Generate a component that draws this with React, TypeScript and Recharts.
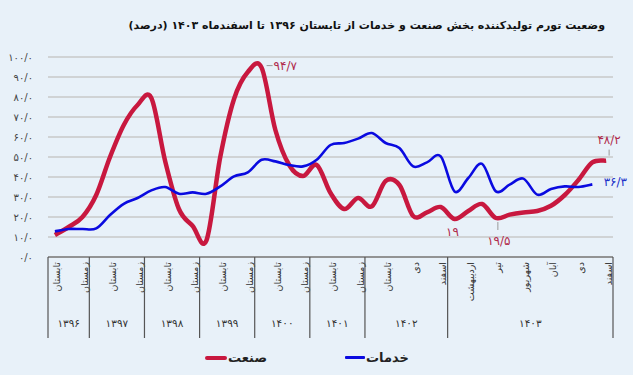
import React from 'react'
import { ComposedChart, Line, XAxis, YAxis, CartesianGrid } from 'recharts'

const years = ['۱۳۹۶', '۱۳۹۷', '۱۳۹۸', '۱۳۹۹', '۱۴۰۰', '۱۴۰۱', '۱۴۰۲', '۱۴۰۳']
const seasons = ['بهار', 'تابستان', 'پاییز', 'زمستان']
const periods: string[][] = [
  ['تابستان', 'پاییز', 'زمستان'],
  seasons, seasons, seasons, seasons, seasons,
  ['بهار', 'تابستان', 'پاییز', 'دی', 'بهمن', 'اسفند'],
  ['فروردین', 'اردیبهشت', 'خرداد', 'تیر', 'مرداد', 'شهریور', 'مهر', 'آبان', 'آذر', 'دی', 'بهمن', 'اسفند'],
]

// صنعت
const industry = [
  11, 15, 20,
  31, 50, 66, 76,
  79.5, 48, 24, 15.5,
  8.3, 50, 79, 92.5,
  94.7, 63.5, 46, 40.5,
  46, 32, 24, 29.5,
  25.3, 38, 36, 20.5, 22.3, 25,
  19, 23, 26.5, 19.5, 21.2, 22.3, 23, 25.6, 31, 38.6, 47.3, 48.2,
]
// خدمات
const services = [
  12.8, 14, 14,
  14.3, 21, 26.6, 29.5,
  33.3, 35, 31.6, 32.3,
  31.6, 35.3, 40.3, 42.3,
  48.6, 47.8, 46, 45.3,
  48.6, 56, 57, 59.2,
  62, 57, 54.5, 45.3, 47.3, 50.3,
  32.8, 39.5, 46.6, 32.8, 36.2, 39.2, 31.2, 34, 35.3, 35, 36.3, null,
]
const yTicks = [0, 10, 20, 30, 40, 50, 60, 70, 80, 90, 100]

// نقاطی که مقدارشان روی نمودار نوشته شده
const industryNotes = [15, 29, 32, 40]
const servicesNotes = [39]

const RED = '#c8183f'
const BLUE = '#0a0ae0'
const FONT = '"DejaVu Sans", sans-serif'

const faDigits = (s: string) => s.replace(/\d/g, d => '۰۱۲۳۴۵۶۷۸۹'[+d])
const fa1 = (v: number) => faDigits(v.toFixed(1).replace('.', '/'))
const faShort = (v: number) => faDigits(String(v).replace('.', '/'))

const rows: any[] = []
const groupStart: number[] = []
periods.forEach((list, y) => {
  groupStart.push(rows.length)
  list.forEach((p, j) => {
    rows.push({ key: `${years[y]}-${j}`, year: y, period: p })
  })
})
rows.forEach((r, i) => {
  r.industry = industry[i]
  r.services = services[i]
})

const W = 633
const H = 375
const margin = { top: 57, right: 20, left: 0, bottom: 35 }
const Y_W = 48
const STEP = (W - margin.left - margin.right - Y_W) / rows.length

// Excel-like smoothed line (Catmull-Rom)
const smoothCurve: any = (context: any) => {
  let pts: number[][] = []
  return {
    areaStart() {},
    areaEnd() {},
    lineStart() { pts = [] },
    lineEnd() {
      const n = pts.length
      if (!n) return
      context.moveTo(pts[0][0], pts[0][1])
      for (let i = 0; i < n - 1; i++) {
        const p0 = pts[Math.max(i - 1, 0)]
        const p1 = pts[i]
        const p2 = pts[i + 1]
        const p3 = pts[Math.min(i + 2, n - 1)]
        context.bezierCurveTo(
          p1[0] + (p2[0] - p0[0]) / 6, p1[1] + (p2[1] - p0[1]) / 6,
          p2[0] - (p3[0] - p1[0]) / 6, p2[1] - (p3[1] - p1[1]) / 6,
          p2[0], p2[1]
        )
      }
    },
    point(x: number, y: number) { pts.push([+x, +y]) },
  }
}

function XTick(props: any) {
  const { x, y, payload } = props
  const i = payload.index
  const row = rows[i]
  const top = y
  const parts: any[] = []
  if (i % 2 === 0) {
    parts.push(
      <text key="l" x={x + 2} y={top + 5} transform={`rotate(-90 ${x + 2} ${top + 5})`}
        textAnchor="end" dominantBaseline="central" fontSize={9.5} fill="#333" fontFamily={FONT}>
        {row.period}
      </text>
    )
  }
  const gi = groupStart.indexOf(i)
  if (gi >= 0) {
    const count = periods[gi].length
    parts.push(<line key="d" x1={x - STEP / 2} x2={x - STEP / 2} y1={top} y2={top + 81} stroke="#555" strokeWidth={1.2} />)
    parts.push(
      <text key="y" x={x + ((count - 1) / 2) * STEP} y={top + 66} textAnchor="middle" dominantBaseline="central"
        fontSize={10.5} fill="#333" fontFamily={FONT}>
        {years[gi]}
      </text>
    )
  }
  if (i === rows.length - 1) {
    parts.push(<line key="e" x1={x + STEP / 2} x2={x + STEP / 2} y1={top} y2={top + 81} stroke="#555" strokeWidth={1.2} />)
  }
  return <g>{parts}</g>
}

function IndustryDot(props: any) {
  const { cx, cy, index, value } = props
  if (!industryNotes.includes(index)) return <g key={`r${index}`} />
  const v = Array.isArray(value) ? value[1] : value
  const txt = faShort(v)
  const st = { fontSize: 12, fill: '#b02a4c', fontFamily: FONT }
  if (index === 15) {
    return (
      <g key={`r${index}`}>
        <line x1={cx + 5} x2={cx + 11} y1={cy - 2} y2={cy - 2} stroke="#999" />
        <text x={cx + 12} y={cy - 2} dominantBaseline="central" {...st}>{txt}</text>
      </g>
    )
  }
  if (index === 29) {
    return <g key={`r${index}`}><text x={cx - 2} y={cy + 13} textAnchor="middle" dominantBaseline="central" {...st}>{txt}</text></g>
  }
  if (index === 32) {
    return (
      <g key={`r${index}`}>
        <line x1={cx + 2} x2={cx + 2} y1={cy + 4} y2={cy + 12} stroke="#999" />
        <text x={cx + 3} y={cy + 23} textAnchor="middle" dominantBaseline="central" {...st}>{txt}</text>
      </g>
    )
  }
  return (
    <g key={`r${index}`}>
      <line x1={cx + 3} x2={cx + 3} y1={cy - 5} y2={cy - 11} stroke="#999" />
      <text x={cx + 3} y={cy - 21} textAnchor="middle" dominantBaseline="central" {...st}>{txt}</text>
    </g>
  )
}

function ServicesDot(props: any) {
  const { cx, cy, index, value } = props
  if (!servicesNotes.includes(index)) return <g key={`b${index}`} />
  const v = Array.isArray(value) ? value[1] : value
  return (
    <g key={`b${index}`}>
      <text x={cx + 23} y={cy - 2} textAnchor="middle" dominantBaseline="central" fontSize={12} fill="#2030c8" fontFamily={FONT}>
        {faShort(v)}
      </text>
    </g>
  )
}

export default function App() {
  return (
    <div style={{ position: 'relative', width: W, height: H, background: '#e8f1f9', fontFamily: FONT, overflow: 'hidden' }}>
      <style>{'body{margin:0}'}</style>
      <div style={{ position: 'absolute', top: 19, right: 28, direction: 'rtl', fontSize: 11, fontWeight: 'bold', color: '#111', whiteSpace: 'nowrap' }}>
        وضعیت تورم تولیدکننده بخش صنعت و خدمات از تابستان ۱۳۹۶ تا اسفندماه ۱۴۰۳ (درصد)
      </div>
      <ComposedChart width={W} height={H} data={rows} margin={margin}>
        <CartesianGrid vertical={false} stroke="#c8c8c8" strokeWidth={1.3} />
        <XAxis dataKey="key" scale="band" interval={0} height={83} tickLine={false} tickSize={0} tickMargin={0}
          axisLine={{ stroke: '#555', strokeWidth: 1.2 }} tick={<XTick />} />
        <YAxis width={Y_W} domain={[0, 100]} ticks={yTicks} interval={0} tickFormatter={fa1} axisLine={false}
          tickLine={false} tickSize={0} tickMargin={15} tick={{ fontSize: 10, fill: '#444', fontFamily: FONT }} />
        <Line dataKey="industry" type={smoothCurve} stroke={RED} strokeWidth={4.5} dot={IndustryDot} activeDot={false} isAnimationActive={false} />
        <Line dataKey="services" type={smoothCurve} stroke={BLUE} strokeWidth={2.6} dot={ServicesDot} activeDot={false} isAnimationActive={false} />
      </ComposedChart>
      <div style={{ position: 'absolute', top: 350, left: 205, display: 'flex', alignItems: 'center', gap: 1 }}>
        <span style={{ display: 'inline-block', width: 22, height: 4, borderRadius: 2, background: RED }} />
        <span style={{ direction: 'rtl', fontSize: 13, fontWeight: 'bold', color: '#222' }}>صنعت</span>
      </div>
      <div style={{ position: 'absolute', top: 350, left: 345, display: 'flex', alignItems: 'center', gap: 1 }}>
        <span style={{ display: 'inline-block', width: 20, height: 3, borderRadius: 1, background: BLUE }} />
        <span style={{ direction: 'rtl', fontSize: 13, fontWeight: 'bold', color: '#222' }}>خدمات</span>
      </div>
    </div>
  )
}
